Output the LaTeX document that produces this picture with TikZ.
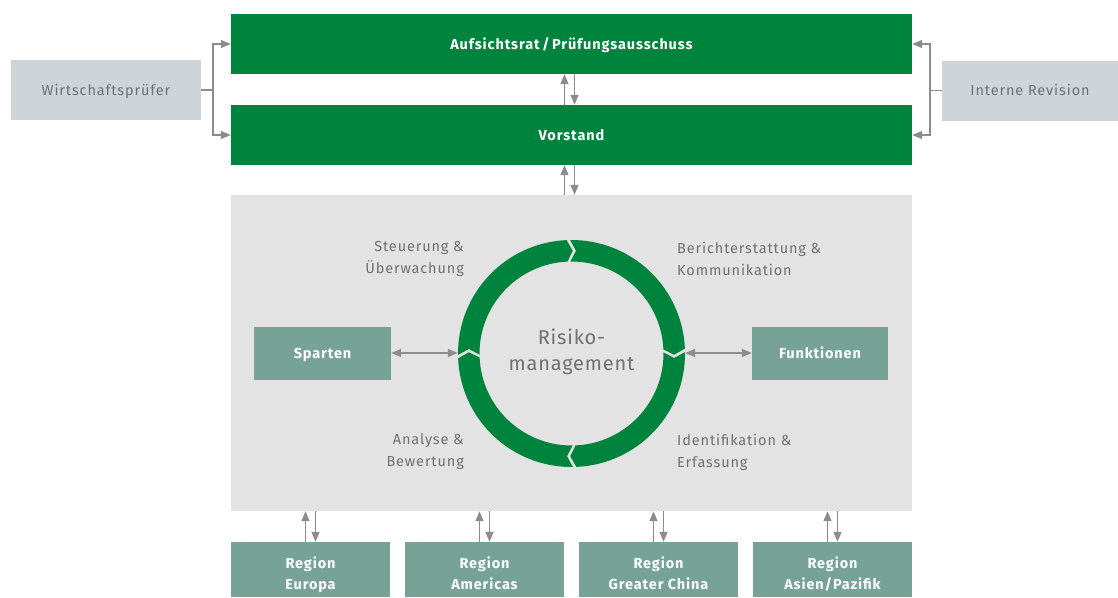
\documentclass[tikz,border=0pt]{standalone}
\usepackage{fontspec}
\setmainfont[LetterSpace=6]{Fira Sans}
\usetikzlibrary{arrows.meta}
\definecolor{dgreen}{RGB}{0,132,61}
\definecolor{tealbox}{RGB}{118,163,150}
\definecolor{lgray}{RGB}{227,227,227}
\definecolor{bgray}{RGB}{205,213,219}
\definecolor{tgray}{RGB}{112,112,112}
\definecolor{agray}{RGB}{140,140,140}
\tikzset{
  greenbox/.style={rectangle,fill=dgreen,inner sep=0pt,minimum height=60pt,minimum width=681pt,text=white,text height=10pt,text depth=0pt,font=\fontsize{14.5}{17}\selectfont\bfseries},
  sidebox/.style={rectangle,fill=bgray,inner sep=0pt,minimum height=60pt,text=tgray,text height=10pt,text depth=0pt,font=\fontsize{14.5}{17}\selectfont},
  tealnode/.style={rectangle,fill=tealbox,inner sep=0pt,text=white,font=\fontsize{14.5}{21}\selectfont\bfseries},
  regtext/.style={text=white,align=center,inner sep=0pt,text depth=0pt,font=\fontsize{14.5}{21}\selectfont\bfseries},
  lbl/.style={text=tgray,inner sep=0pt,font=\fontsize{14.5}{22}\selectfont},
  gline/.style={draw=agray,line width=1.4pt},
  arr/.style={gline,-{Triangle[length=10pt,width=8pt]}},
  dbl/.style={gline,{Triangle[length=10pt,width=8pt]}-{Triangle[length=10pt,width=8pt]}},
}
\begin{document}
\begin{tikzpicture}[x=1pt,y=1pt]
\useasboundingbox (0,0) rectangle (1118,-597);
% boxes
\node[sidebox,minimum width=190pt] (wp) at (106,-90) {Wirtschaftsprüfer};
\node[sidebox,minimum width=176pt] (ir) at (1030,-90.5) {Interne Revision};
\node[greenbox] (ar) at (571.5,-44) {Aufsichtsrat\,/\,Prüfungsausschuss};
\node[greenbox] (vs) at (571.5,-135) {Vorstand};
\node[rectangle,fill=lgray,inner sep=0pt,minimum width=681pt,minimum height=316pt] (gb) at (571.5,-353) {};
\node[tealnode,minimum width=137pt,minimum height=53pt,text height=10pt,text depth=0pt] (sp) at (322.5,-353) {Sparten};
\node[tealnode,minimum width=136pt,minimum height=53pt,text height=10pt,text depth=0pt] (fk) at (820,-353) {Funktionen};
\node[tealnode,minimum width=159pt,minimum height=55pt] (r1) at (310.5,-569.5) {};
\node[tealnode,minimum width=159pt,minimum height=55pt] (r2) at (484.5,-569.5) {};
\node[tealnode,minimum width=159pt,minimum height=55pt] (r3) at (658.5,-569.5) {};
\node[tealnode,minimum width=159pt,minimum height=55pt] (r4) at (832.5,-569.5) {};
\node[regtext] (r1t) at ([yshift=-3.5pt]r1.center) {Region\\Europa};
\node[regtext] (r2t) at ([yshift=-3.5pt]r2.center) {Region\\Americas};
\node[regtext] (r3t) at ([yshift=-3.5pt]r3.center) {Region\\Greater China};
\node[regtext] (r4t) at ([yshift=-3.5pt]r4.center) {Region\\Asien/Pazifik};
% ring
\node[circle,inner sep=0pt,minimum size=227pt] (ring) at (571.5,-353.5) {};
\begin{scope}[shift={(571.5,-353.5)}]
\def\Ro{113.5pt}\def\Ri{92pt}\def\Rm{102.75pt}
\def\gp{1.8}\def\dp{3.2}
\foreach \bA/\bB in {180/90, 90/0, 0/-90, -90/-180}{
  \pgfmathsetmacro\sA{\bA-\gp/2+\dp/2}
  \pgfmathsetmacro\nN{\bA-\gp/2-\dp/2}
  \pgfmathsetmacro\eB{\bB+\gp/2+\dp/2}
  \pgfmathsetmacro\tT{\bB+\gp/2-\dp/2}
  \fill[dgreen] (\sA:\Ro) arc[start angle=\sA,end angle=\eB,radius=\Ro] -- (\tT:\Rm) -- (\eB:\Ri) arc[start angle=\eB,end angle=\sA,radius=\Ri] -- (\nN:\Rm) -- cycle;
}
\end{scope}
\node[text=tgray,align=center,inner sep=0pt,font=\fontsize{20}{26}\selectfont\addfontfeatures{LetterSpace=4}] (rm) at (571.5,-352) {Risiko-\\management};
% labels
\node[lbl,align=right,anchor=east] (l1) at (464,-258.5) {Steuerung \&\\Überwachung};
\node[lbl,align=left,anchor=west] (l2) at (677,-258.5) {Berichterstattung \&\\Kommunikation};
\node[lbl,align=right,anchor=east] (l3) at (464,-452) {Analyse \&\\Bewertung};
\node[lbl,align=left,anchor=west] (l4) at (677,-452) {Identifikation \&\\Erfassung};
% connectors
\coordinate (lj) at (213,-90);
\coordinate (rj) at (930,-90.5);
\draw[gline] (wp.east) -- (lj);
\draw[arr] (lj) |- (ar.west);
\draw[arr] (lj) |- (vs.west);
\draw[gline] (ir.west) -- (rj);
\draw[arr] (rj) |- (ar.east);
\draw[arr] (rj) |- (vs.east);
\draw[arr] ([xshift=-7pt]vs.north) -- ([xshift=-7pt]ar.south);
\draw[arr] ([xshift=3pt]ar.south) -- ([xshift=3pt]vs.north);
\draw[arr] ([xshift=-7pt]gb.north) -- ([xshift=-7pt]vs.south);
\draw[arr] ([xshift=3pt]vs.south) -- ([xshift=3pt]gb.north);
\draw[dbl] (sp.east) -- (sp.east -| ring.west);
\draw[dbl] (fk.west) -- (fk.west -| ring.east);
\foreach \r in {r1,r2,r3,r4}{
  \draw[arr] ([xshift=-5pt]\r.north) -- ([xshift=-5pt]\r.north |- gb.south);
  \draw[arr] ([xshift=5pt]\r.north |- gb.south) -- ([xshift=5pt]\r.north);
}
\end{tikzpicture}
\end{document}
